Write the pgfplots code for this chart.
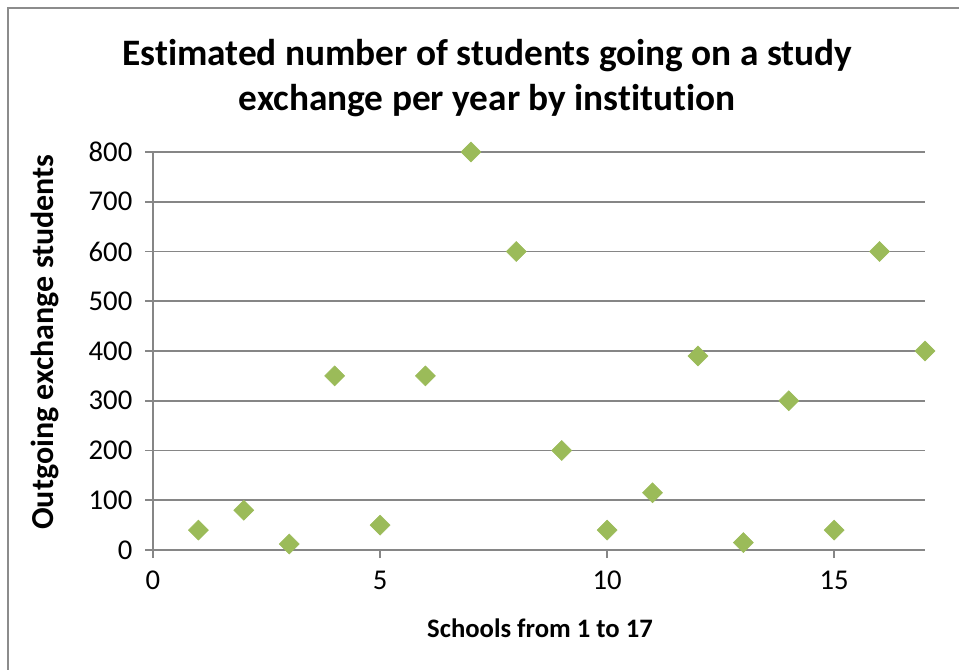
\documentclass[border=0pt]{standalone}
\usepackage{fontspec}
\setmainfont{Carlito}[Ligatures={NoCommon}]
\usepackage{pgfplots}
\pgfplotsset{compat=1.18}
\definecolor{mk}{HTML}{9BBB59}
\definecolor{gr}{HTML}{868686}
\definecolor{bd}{HTML}{8C8C8C}
\begin{document}
\begin{tikzpicture}
\useasboundingbox[fill=white] (0,0) rectangle (719.25pt,-502.5pt);
\draw[bd, line width=1.2pt] (6pt,-502.5pt) -- (6pt,-6pt) -- (719.25pt,-6pt);
\begin{axis}[
  at={(114.75pt,-412.5pt)}, anchor=south west,
  scale only axis, width=579pt, height=298.5pt,
  xmin=0, xmax=17, ymin=0, ymax=800,
  xtick={0,5,10,15}, ytick={0,100,...,800},
  axis x line=bottom, axis y line=left,
  axis line style={gr, line width=1.4pt, -},
  tick align=outside, major tick length=6pt,
  tick style={gr, line width=1.4pt},
  ymajorgrids, major grid style={gr, line width=1.2pt},
  clip=false,
  /pgf/number format/assume math mode=true,
  /pgf/number format/1000 sep={},
  tick label style={font=\fontsize{21.5}{25}\selectfont, black},
  xticklabel style={yshift=-6pt},
  yticklabel style={xshift=-6pt},
]
\addplot[only marks, mark=square*, mark size=5.3pt, mark options={rotate=45, fill=mk, draw=mk}]
coordinates {
(1,40) (2,80) (3,12) (4,350) (5,50) (6,350) (7,800) (8,600) (9,200)
(10,40) (11,115) (12,390) (13,15) (14,300) (15,40) (16,600) (17,400)
};
\end{axis}
\node[align=center, font=\bfseries\fontsize{28}{34}\selectfont] at (365.5pt,-58.5pt)
  {Estimated number of students going on a study\\exchange per year by institution};
\node[rotate=90, font=\bfseries\fontsize{24}{28}\selectfont] at (34pt,-256.5pt)
  {Outgoing exchange students};
\node[font=\bfseries\fontsize{20}{24}\selectfont] at (405pt,-471pt)
  {Schools from 1 to 17};
\end{tikzpicture}
\end{document}
